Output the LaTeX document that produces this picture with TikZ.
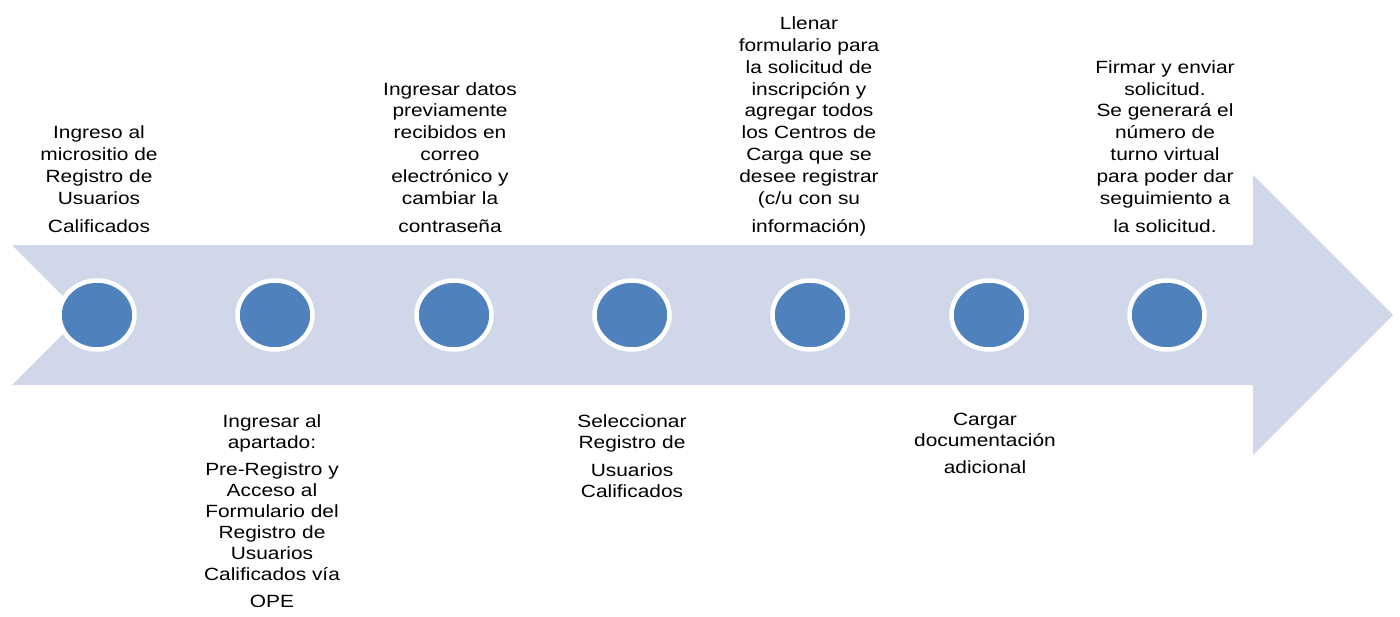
\documentclass[tikz,border=0pt]{standalone}
\usepackage{fontspec}
\setmainfont[FakeStretch=1.18]{Liberation Sans}
\usetikzlibrary{shapes.geometric}
\definecolor{arrowfill}{RGB}{208,215,232}
\definecolor{dotblue}{RGB}{79,129,189}
\tikzset{
  toplabel/.style={align=center, inner sep=0pt, anchor=base, font=\fontsize{17.7}{21.8}\selectfont},
  botlabel/.style={align=center, inner sep=0pt, anchor=base, font=\fontsize{17.7}{21}\selectfont},
  dot/.style={ellipse, fill=dotblue, draw=white, line width=4.5pt, minimum width=75pt, minimum height=69pt, inner sep=0pt}
}
\begin{document}
\begin{tikzpicture}[x=1pt,y=-1pt]
\useasboundingbox (0,0) rectangle (1400,616);
\fill[arrowfill] (12,245) -- (1253,245) -- (1253,175) -- (1393,315) -- (1253,455) -- (1253,385) -- (12,385) -- (82,315) -- cycle;
\node[dot] (d1) at (97,315) {};
\node[dot] (d2) at (275,315) {};
\node[dot] (d3) at (454,315) {};
\node[dot] (d4) at (632,315) {};
\node[dot] (d5) at (810,315) {};
\node[dot] (d6) at (989,315) {};
\node[dot] (d7) at (1167,315) {};
\node[toplabel] (t1) at (99,232.7) {Ingreso al\\micrositio de\\Registro de\\Usuarios\\[6.9pt]Calificados};
\node[toplabel] (t3) at (450,232.7) {Ingresar datos\\previamente\\recibidos en\\correo\\electrónico y\\cambiar la\\[6.9pt]contraseña};
\node[toplabel] (t5) at (809,232.7) {Llenar\\formulario para\\la solicitud de\\inscripción y\\agregar todos\\los Centros de\\Carga que se\\desee registrar\\(c/u con su\\[6.9pt]información)};
\node[toplabel] (t7) at (1165,232.7) {Firmar y enviar\\solicitud.\\Se generará el\\número de\\turno virtual\\para poder dar\\seguimiento a\\[6.9pt]la solicitud.};
\node[botlabel] (t2) at (272,607) {Ingresar al\\apartado:\\[6pt]Pre-Registro y\\Acceso al\\Formulario del\\Registro de\\Usuarios\\Calificados vía\\[6pt]OPE};
\node[botlabel] (t4) at (632,497) {Seleccionar\\Registro de\\[7pt]Usuarios\\Calificados};
\node[botlabel] (t6) at (985,473) {Cargar\\documentación\\[6pt]adicional};
\end{tikzpicture}
\end{document}
